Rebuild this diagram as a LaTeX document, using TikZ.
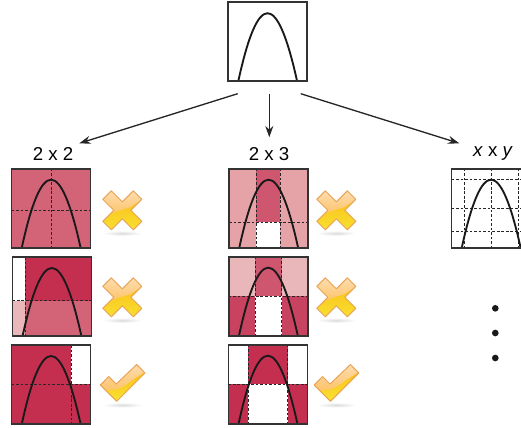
\documentclass[tikz,border=0pt]{standalone}
\usepackage{fontspec}
\setmainfont{Liberation Sans}
\usetikzlibrary{arrows.meta}
\definecolor{celldark}{HTML}{C42F50}
\definecolor{cellmid}{HTML}{D36478}
\definecolor{cellrose}{HTML}{CF566F}
\definecolor{cellred}{HTML}{C8435F}
\definecolor{celllight}{HTML}{E5A3A8}
\definecolor{cellpale}{HTML}{E9B6BA}
\definecolor{iconedge}{HTML}{E8A458}
\definecolor{icontop}{HTML}{FDDDB0}
\definecolor{iconmid}{HTML}{FDBE5C}
\definecolor{iconlow}{HTML}{FBBE1C}
\definecolor{iconyellow}{HTML}{F8E632}
\tikzset{
	every node/.style = {font=\fontsize{14}{16}\selectfont},
	panelbox/.style = {draw=black!80, line width=1.2pt, minimum size=59.25pt, inner sep=0pt},
	griddash/.style = {draw=black!85, line width=.45pt, dash pattern=on 2pt off 1.4pt},
	curveline/.style = {draw=black!90, line width=1.4pt},
	arrowline/.style = {draw=black!85, line width=1pt, -{Stealth[length=8.5pt,width=6pt]}},
	dotnode/.style = {circle, fill=black!90, minimum size=5pt, inner sep=0pt},
	crossicon/.pic = {
		\shade[inner color=black!14, outer color=white] (0,23) ellipse (20 and 2.6);
		\begin{scope}
			\clip (-11,-19.5) -- (-19.5,-11) -- (-8.5,0) -- (-19.5,11) -- (-11,19.5) -- (0,8.5) -- (11,19.5) -- (19.5,11) -- (8.5,0) -- (19.5,-11) -- (11,-19.5) -- (0,-8.5) -- cycle;
			\shade[top color=icontop, bottom color=iconmid] (-20,-20) rectangle (20,8);
			\shade[top color=iconlow, bottom color=iconyellow] (-25,10) -- (-12,4) .. controls (-4,0) and (2,-1) .. (8,-3) -- (25,-14) -- (25,25) -- (-25,25) -- cycle;
		\end{scope}
		\draw[iconedge, line width=.75pt, line join=round] (-11,-19.5) -- (-19.5,-11) -- (-8.5,0) -- (-19.5,11) -- (-11,19.5) -- (0,8.5) -- (11,19.5) -- (19.5,11) -- (8.5,0) -- (19.5,-11) -- (11,-19.5) -- (0,-8.5) -- cycle;
	},
	checkicon/.pic = {
		\shade[inner color=black!14, outer color=white] (0,21) ellipse (20 and 2.6);
		\begin{scope}
			\clip (-22.3,1) -- (-14,-7.5) -- (-6.5,0) -- (14,-19.5) -- (22.3,-11) -- (-6,17.3) -- cycle;
			\shade[top color=icontop, bottom color=iconmid] (-23,-20) rectangle (23,12);
			\shade[top color=iconlow, bottom color=iconyellow] (-25,8) -- (-12,6) .. controls (-4,6) and (2,2) .. (10,-4) -- (25,-14) -- (25,20) -- (-25,20) -- cycle;
		\end{scope}
		\draw[iconedge, line width=.75pt, line join=round] (-22.3,1) -- (-14,-7.5) -- (-6.5,0) -- (14,-19.5) -- (22.3,-11) -- (-6,17.3) -- cycle;
	}
}
% one plot: fills and dashes first, then the curve and the frame
\newcommand{\plotpanel}[4]{
	\begin{scope}[shift={(#2,#3)}]
		#4
		\draw[curveline] (10.4,78.5) .. controls (30,-11.5) and (49,-11.5) .. (69,78.5);
		\node[panelbox] (#1) at (39.5,39.5) {};
	\end{scope}
}
\begin{document}
\begin{tikzpicture}[x=.75pt, y=-.75pt]
		\useasboundingbox (0,0) rectangle (521,428);
		\clip (0,0) rectangle (521,428);
		% start
		\plotpanel{start}{228}{2.2}{}
		\coordinate (fromleft) at (237.7,93.7);
		\coordinate (frommid) at (269.3,94);
		\coordinate (fromright) at (300.7,93.7);
		\coordinate (toleft) at (79.3,143.3);
		\coordinate (tomid) at (269.3,137.3);
		\coordinate (toright) at (459.3,143.3);
		\draw[arrowline] (fromleft) -- (toleft);
		\draw[arrowline] (frommid) -- (tomid);
		\draw[arrowline] (fromright) -- (toright);
		% labels
		\node (labela) at (53,154) {2 x 2};
		\node (labelb) at (269,154) {2 x 3};
		\node (labelc) at (493,154) {\textit{x} x \textit{y}};
		% 2 x 2
		\plotpanel{twoa}{11.5}{168.7}{
			\fill[cellmid] (0,0) rectangle (79,79);
			\draw[griddash] (0,41.6) -- (79,41.6);
			\draw[griddash] (39.5,0) -- (39.5,79);
		}
		\plotpanel{twob}{12.3}{257}{
			\fill[celldark] (13,0) rectangle (79,43.7);
			\fill[cellmid] (13,43.7) rectangle (79,79);
			\fill[cellpale] (0,43.7) rectangle (13,79);
			\draw[griddash] (0,43.7) -- (79,43.7);
			\draw[griddash] (13,0) -- (13,79);
		}
		\plotpanel{twoc}{11.5}{345}{
			\fill[celldark] (0,0) rectangle (79,79);
			\fill[white] (59.4,0) rectangle (79,39);
			\draw[griddash] (0,39) -- (79,39);
			\draw[griddash] (59.4,0) -- (59.4,79);
		}
		% 2 x 3
		\plotpanel{threea}{229}{168.7}{
			\fill[celllight] (0,0) rectangle (79,79);
			\fill[cellrose] (27.3,0) rectangle (51.3,53.6);
			\fill[white] (27.3,53.6) rectangle (51.3,79);
			\draw[griddash] (0,53.6) -- (79,53.6);
			\draw[griddash] (27.3,0) -- (27.3,79);
			\draw[griddash] (51.3,0) -- (51.3,79);
		}
		\plotpanel{threeb}{228.7}{256.7}{
			\fill[cellpale] (0,0) rectangle (79,39.3);
			\fill[cellred] (0,39.3) rectangle (79,79);
			\fill[cellrose] (26.7,0) rectangle (53,39.3);
			\fill[white] (26.7,39.3) rectangle (53,79);
			\draw[griddash] (0,39.3) -- (79,39.3);
			\draw[griddash] (26.7,0) -- (26.7,79);
			\draw[griddash] (53,0) -- (53,79);
		}
		\plotpanel{threec}{228.3}{344.7}{
			\fill[celldark] (20,0) rectangle (59.4,39.6);
			\fill[celldark] (0,39.6) rectangle (79,79);
			\fill[white] (20,39.6) rectangle (59.4,79);
			\draw[griddash] (0,39.6) -- (79,39.6);
			\draw[griddash] (20,0) -- (20,79);
			\draw[griddash] (59.4,0) -- (59.4,79);
		}
		% x x y
		\plotpanel{general}{451.5}{168.7}{
			\draw[griddash] (0,10.6) -- (80,10.6);
			\draw[griddash] (0,39.6) -- (80,39.6);
			\draw[griddash] (0,63) -- (80,63);
			\draw[griddash] (13,0) -- (13,79);
			\draw[griddash] (39.4,0) -- (39.4,79);
			\draw[griddash] (66.3,0) -- (66.3,79);
		}
		\node[dotnode] (dota) at (495.3,308.3) {};
		\node[dotnode] (dotb) at (495.3,333) {};
		\node[dotnode] (dotc) at (495.3,358) {};
		% marks
		\pic at (122.3,210.3) {crossicon};
		\pic at (122.3,297.3) {crossicon};
		\pic at (122.7,384) {checkicon};
		\pic at (336.3,210.3) {crossicon};
		\pic at (336.3,297.3) {crossicon};
		\pic at (336.5,384) {checkicon};
	\end{tikzpicture}
\end{document}
